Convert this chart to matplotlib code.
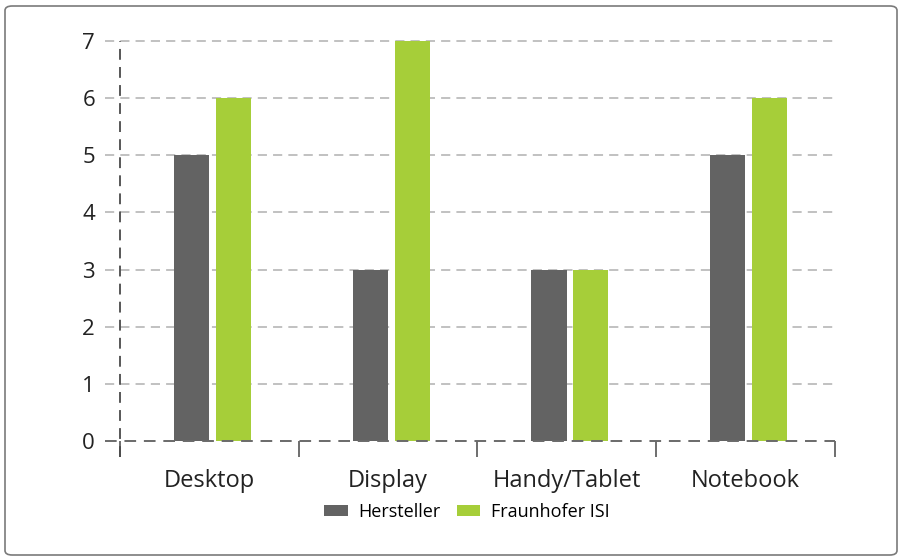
import matplotlib.pyplot as plt
import numpy as np
from matplotlib.patches import FancyBboxPatch

plt.rcParams['font.family'] = ['Open Sans', 'DejaVu Sans']

categories = ["Desktop", "Display", "Handy/Tablet", "Notebook"]
hersteller = [5, 3, 3, 5]
fraunhofer = [6, 7, 3, 6]
yticks = [0, 1, 2, 3, 4, 5, 6, 7]

grau = "#636363"
gruen = "#a6ce39"

fig = plt.figure(figsize=(9.03, 5.6), dpi=100)
W, H = 903, 560
ax = fig.add_axes([120 / W, (H - 441) / H, 715 / W, 400 / H])

# Rahmen mit runden Ecken
rahmen = FancyBboxPatch((5 / W, 5 / H), 892 / W, 549 / H,
                        boxstyle="round,pad=0,rounding_size=0.008",
                        transform=fig.transFigure, fill=False,
                        edgecolor="#7a7a7a", lw=1.2)
fig.patches.append(rahmen)

x = np.arange(len(categories))
bw = 0.196
off = 0.117
shift = 0.017
ax.bar(x - off + shift, hersteller, bw, color=grau, label="Hersteller", zorder=2)
ax.bar(x + off + shift, fraunhofer, bw, color=gruen, label="Fraunhofer ISI", zorder=2)

ax.set_xlim(-0.5, 3.5)
ax.set_ylim(0, 7)
for s in ax.spines.values():
    s.set_visible(False)

# Gitterlinien
for y in yticks[1:]:
    ax.axhline(y, xmin=-0.021, xmax=1, color="#b0b0b0", lw=1.1,
               ls=(0, (6, 4)), clip_on=False, zorder=1)
ax.axhline(0, xmin=-0.021, xmax=1, color="#6a6a6a", lw=1.4,
           ls=(0, (6, 4)), clip_on=False, zorder=3)
ax.axvline(-0.5, ymin=-0.04, ymax=1, color="#4a4a4a", lw=1.3,
           ls=(0, (6, 4)), clip_on=False, zorder=3)

ax.set_yticks(yticks)
ax.tick_params(axis="y", length=0, labelsize=16, colors="#222222", pad=18)

ax.set_xticks(np.arange(-0.5, 4, 1))
ax.set_xticklabels([])
ax.tick_params(axis="x", which="major", length=11.5, width=1.2,
               color="#555555", direction="out")
ax.set_xticks(x, minor=True)
ax.set_xticklabels(categories, minor=True)
ax.tick_params(axis="x", which="minor", length=0, labelsize=17,
               colors="#222222", pad=20.5)

fig.legend(loc="center", bbox_to_anchor=(467 / W, 1 - 512 / H), ncol=2,
           frameon=False, fontsize=13, handlelength=1.3, handleheight=0.5,
           columnspacing=0.9, handletextpad=0.6)

plt.savefig("out.png", dpi=100)
